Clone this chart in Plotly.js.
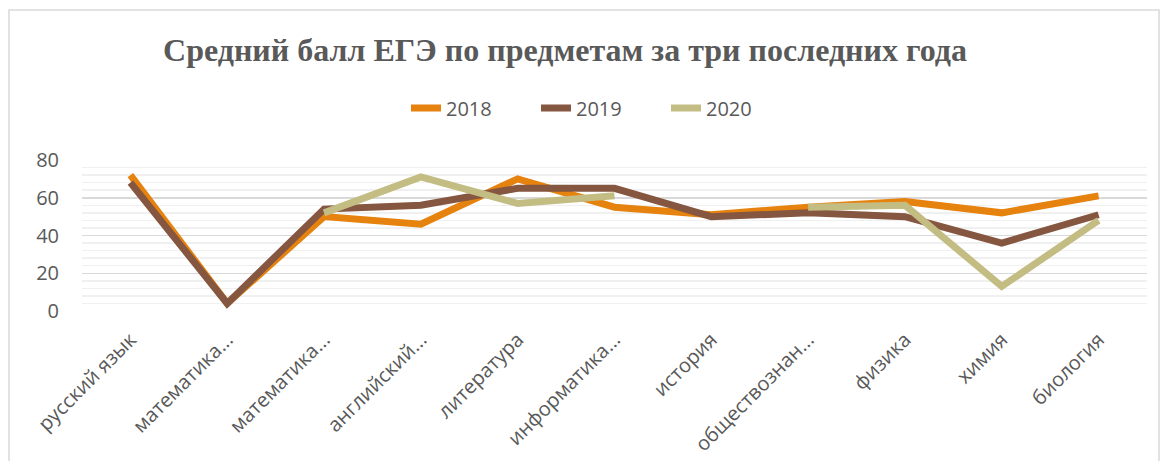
<!DOCTYPE html>
<html>
<head>
<meta charset="utf-8">
<script src="https://cdn.plot.ly/plotly-3.0.1.min.js"></script>
<style>html,body{margin:0;padding:0;background:#fff;}#chart{width:1165px;height:461px;}</style>
</head>
<body>
<div id="chart"></div>
<script>
const categories = ["русский язык", "математика базовая", "математика профильная", "английский язык", "литература", "информатика и ИКТ", "история", "обществознание", "физика", "химия", "биология"];
const tickLabels = ["русский язык", "математика...", "математика...", "английский...", "литература", "информатика...", "история", "обществознан...", "физика", "химия", "биология"];
const series2018 = [72, 4, 50, 46, 70, 55, 51, 55, 58, 52, 61];
const series2019 = [68, 4, 54, 56, 65, 65, 50, 52, 50, 36, 51];
const series2020 = [null, null, 52, 71, 57, 61, null, 55, 56, 13, 48];
const seriesNames = ["2018", "2019", "2020"];
const seriesColors = ["#E6820E", "#855640", "#C3BD83"];

const allSeries = [series2018, series2019, series2020];
const traces = allSeries.map((vals, i) => ({
  x: categories,
  y: vals,
  name: seriesNames[i],
  type: "scatter",
  mode: "lines",
  connectgaps: false,
  line: {color: seriesColors[i], width: 7},
  hoverinfo: "x+y+name"
}));

const L = 82, R = 1147, T = 160, B = 311;
const W = R - L, H = B - T;
const px2x = p => (p - L) / W;
const px2y = p => (B - p) / H;

const layout = {
  width: 1165, height: 461,
  margin: {l: L, r: 1165 - R, t: T, b: 461 - B},
  paper_bgcolor: "#ffffff",
  plot_bgcolor: "#ffffff",
  showlegend: true,
  title: {
    text: "<b>Средний балл ЕГЭ по предметам за три последних года</b>",
    font: {family: "Liberation Serif, Times New Roman, serif", size: 32, color: "#595959"},
    x: 565 / 1165, xanchor: "center", xref: "container",
    y: 1 - 50 / 461, yanchor: "middle", yref: "container"
  },
  legend: {
    orientation: "h",
    x: px2x(601), xanchor: "center",
    y: px2y(108), yanchor: "middle",
    font: {family: "Open Sans, Liberation Sans, sans-serif", size: 20, color: "#595959"},
    entrywidth: 85, entrywidthmode: "pixels",
    traceorder: "normal"
  },
  xaxis: {
    type: "category",
    range: [-0.5, categories.length - 0.5],
    tickvals: categories,
    ticktext: tickLabels,
    tickangle: -45,
    showgrid: false,
    zeroline: false,
    showline: false,
    ticks: "",
    ticklabelstandoff: 12,
    tickfont: {family: "Open Sans, Liberation Sans, sans-serif", size: 20, color: "#595959"},
    fixedrange: true
  },
  yaxis: {
    range: [0, 80],
    dtick: 20,
    tick0: 0,
    showgrid: true,
    gridcolor: "#d9d9d9",
    gridwidth: 1.5,
    zeroline: false,
    showline: false,
    ticks: "",
    ticklabelstandoff: 22,
    tickfont: {family: "Open Sans, Liberation Sans, sans-serif", size: 20, color: "#595959"},
    minor: {dtick: 4, showgrid: true, gridcolor: "#f0f0f0", gridwidth: 1.5},
    fixedrange: true
  },
  shapes: [{
    type: "rect", xref: "paper", yref: "paper", layer: "below",
    x0: px2x(9), x1: px2x(1159), y0: px2y(475), y1: px2y(10),
    line: {color: "#d9d9d9", width: 1.5}, fillcolor: "rgba(0,0,0,0)"
  }]
};

Plotly.newPlot("chart", traces, layout, {displayModeBar: false, staticPlot: true});
</script>
</body>
</html>
